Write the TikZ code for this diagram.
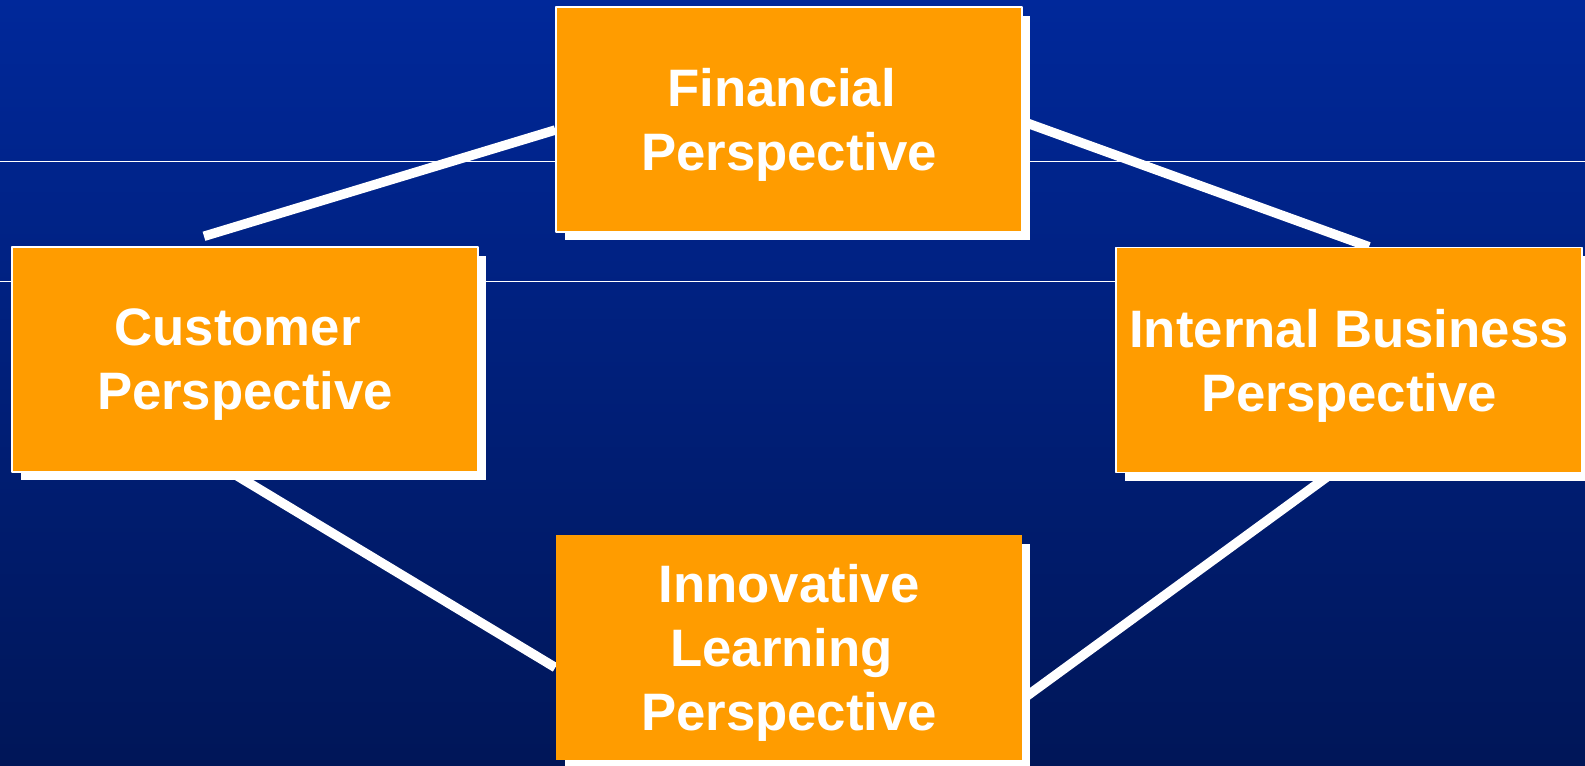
\documentclass[tikz,border=0pt]{standalone}
\usepackage{fontspec}
\setmainfont{Liberation Sans}
\usetikzlibrary{calc,shadows,backgrounds}
\definecolor{bgtop}{HTML}{00289A}
\definecolor{bgbot}{HTML}{001658}
\definecolor{boxorange}{HTML}{FF9C00}
\begin{document}
\begin{tikzpicture}[x=0.02cm,y=-0.02cm,line join=round,
	persp/.style={fill=boxorange,draw=white,line width=0.03cm,minimum width=9.32cm,minimum height=4.5cm,
		align=center,text=white,font=\fontsize{30}{36.4}\selectfont\bfseries,text depth=-0.1cm,
		drop shadow={shadow xshift=0.17cm,shadow yshift=-0.17cm,fill=white,opacity=1}},
	link/.style={white,line width=0.19cm}]
	\useasboundingbox (0,0) rectangle (1585,765);
	% the four perspectives
	\node[persp] (fin) at (789,119.5) {Financial\hphantom{\ }\\Perspective};
	\node[persp] (cust) at (245,359.5) {Customer\hphantom{\ }\\Perspective};
	\node[persp] (int) at (1349,360) {Internal Business\\Perspective};
	\node[persp,draw=none] (inn) at (789,647.5) {Innovative\\Learning\hphantom{\ }\\Perspective};
	\begin{scope}[on background layer]
		\shade[top color=bgtop,bottom color=bgbot] (0,0) rectangle (1585,765);
		\foreach \y in {161,281} \draw[white,line width=0.02cm] (0,\y)--(1585,\y);
		% links behind the boxes
		\draw[link] ($(cust.north)+(-41,-10)$)--($(fin.west)+(0,10.5)$);
		\draw[link] ($(fin.east)+(0,2)$)--($(int.north)+(20,0)$);
		\draw[link] ($(cust.south)+(-13,0)$)--($(inn.west)+(0,20)$);
		\draw[link] ($(int.south)+(-17,0)$)--($(inn.east)+(0,51.5)$);
	\end{scope}
\end{tikzpicture}
\end{document}
